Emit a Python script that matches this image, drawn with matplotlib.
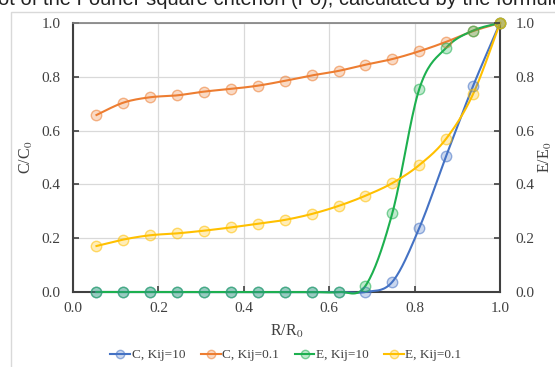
import numpy as np
import matplotlib
matplotlib.use("Agg")
import matplotlib.pyplot as plt
from matplotlib.colors import to_rgba
from matplotlib.lines import Line2D
from matplotlib.patches import Rectangle

# ---- data ----
r_over_r0 = [0.055, 0.118, 0.181, 0.244, 0.307, 0.370, 0.433, 0.496,
             0.559, 0.622, 0.685, 0.748, 0.811, 0.874, 0.937, 1.0]
c_kij10 = [0.0, 0.0, 0.0, 0.0, 0.0, 0.0, 0.0, 0.0,
           0.0, 0.0, 0.0, 0.038, 0.238, 0.506, 0.766, 1.0]
c_kij01 = [0.658, 0.704, 0.724, 0.731, 0.745, 0.755, 0.767, 0.785,
           0.805, 0.822, 0.845, 0.866, 0.895, 0.930, 0.970, 1.0]
e_kij10 = [0.0, 0.0, 0.0, 0.0, 0.0, 0.0, 0.0, 0.0,
           0.0, 0.0, 0.023, 0.294, 0.755, 0.908, 0.972, 1.0]
e_kij01 = [0.171, 0.195, 0.211, 0.218, 0.228, 0.240, 0.254, 0.268,
           0.290, 0.320, 0.358, 0.405, 0.472, 0.570, 0.736, 1.0]
series_labels = ["C, Kij=10", "C, Kij=0.1", "E, Kij=10", "E, Kij=0.1"]
series_colors = ["#4472C4", "#ED7D31", "#1DB04F", "#FFC000"]
ticks = [0.0, 0.2, 0.4, 0.6, 0.8, 1.0]


def smooth(x, y, n=20):
    x = np.asarray(x, float)
    y = np.asarray(y, float)
    px = np.concatenate([[x[0]], x, [x[-1]]])
    py = np.concatenate([[y[0]], y, [y[-1]]])
    xs, ys = [], []
    t = np.linspace(0, 1, n)
    for i in range(1, len(px) - 2):
        p0x, p1x, p2x, p3x = px[i - 1], px[i], px[i + 1], px[i + 2]
        p0y, p1y, p2y, p3y = py[i - 1], py[i], py[i + 1], py[i + 2]
        c1x = p1x + (p2x - p0x) / 6
        c1y = p1y + (p2y - p0y) / 6
        c2x = p2x - (p3x - p1x) / 6
        c2y = p2y - (p3y - p1y) / 6
        bx = (1 - t) ** 3 * p1x + 3 * (1 - t) ** 2 * t * c1x + 3 * (1 - t) * t ** 2 * c2x + t ** 3 * p2x
        by = (1 - t) ** 3 * p1y + 3 * (1 - t) ** 2 * t * c1y + 3 * (1 - t) * t ** 2 * c2y + t ** 3 * p2y
        xs.extend(bx)
        ys.extend(by)
    return np.array(xs), np.array(ys)


plt.rcParams["font.family"] = ["Liberation Serif", "DejaVu Serif"]
plt.rcParams["mathtext.fontset"] = "stix"

fig = plt.figure(figsize=(5.55, 3.67), dpi=100)
fig.patch.set_facecolor("white")

# cropped caption text at top of the page and page frame
fig.text(-0.004, 1 - 5 / 367, "ot of the Fourier square criterion (Fo), calculated by the formula",
         family=["Liberation Sans", "DejaVu Sans"], fontsize=14.5, ha="left", va="baseline",
         color="#222222")
fig.patches.append(Rectangle((11 / 555, -0.2), 1.2, 1 - 12 / 367 + 0.2, transform=fig.transFigure,
                             fill=False, edgecolor="#D9D9D9", linewidth=1.0, zorder=0))

ax = fig.add_axes([73 / 555, 1 - 292 / 367, 427 / 555, 269 / 367])
ax.set_facecolor("white")

series = [c_kij10, c_kij01, e_kij10, e_kij01]
handles = []
for vals, col, lab in zip(series, series_colors, series_labels):
    sx, sy = smooth(r_over_r0, vals)
    ax.plot(sx, sy, color=col, lw=1.5, zorder=3, clip_on=False)
    face = to_rgba(col, 0.28)
    edge = to_rgba(col, 0.55)
    ax.plot(r_over_r0, vals, ls="none", marker="o", ms=7.5, mfc=face, mec=edge, mew=1.0,
            zorder=4, clip_on=False)
    handles.append(Line2D([], [], color=col, lw=1.5, marker="o", ms=6, mfc=face, mec=edge,
                          mew=1.0, label=lab))

ax.set_xlim(0, 1)
ax.set_ylim(0, 1)
ax.set_xticks(ticks)
ax.set_yticks(ticks)
ax.set_xticklabels([f"{t:.1f}" for t in ticks])
ax.set_yticklabels([f"{t:.1f}" for t in ticks])
ax.grid(True, color="#D9D9D9", lw=0.9, zorder=0)
ax.set_axisbelow(True)

for s in ["left", "bottom", "right"]:
    ax.spines[s].set_color("#404040")
    ax.spines[s].set_linewidth(1.5)
ax.spines["top"].set_color("#808080")
ax.spines["top"].set_linewidth(1.2)

ax.tick_params(axis="both", direction="in", length=4, width=1.2, colors="#404040",
               labelsize=11, labelcolor="#404040")
ax.tick_params(axis="x", pad=7)
ax.tick_params(axis="y", pad=9)

ax2 = ax.twinx()
ax2.set_ylim(0, 1)
ax2.set_yticks(ticks)
ax2.set_yticklabels([f"{t:.1f}" for t in ticks])
ax2.tick_params(axis="y", direction="in", length=4, width=1.2, colors="#404040",
                labelsize=11, labelcolor="#404040", pad=11)
for s in ax2.spines.values():
    s.set_visible(False)

ax.set_xlabel("R/R$_0$", fontsize=11.5, color="#404040", labelpad=6)
ax.set_ylabel("C/C$_0$", fontsize=11.5, color="#404040", labelpad=5)
ax2.set_ylabel("E/E$_0$", fontsize=11.5, color="#404040", labelpad=2)

fig.legend(handles=handles, loc="center", bbox_to_anchor=(286 / 555, 1 - 355 / 367),
           ncol=4, frameon=False, fontsize=9.5, handlelength=1.5, handletextpad=0.1,
           columnspacing=1.2, labelcolor="#404040")

fig.savefig("out.png", dpi=100, facecolor="white")
